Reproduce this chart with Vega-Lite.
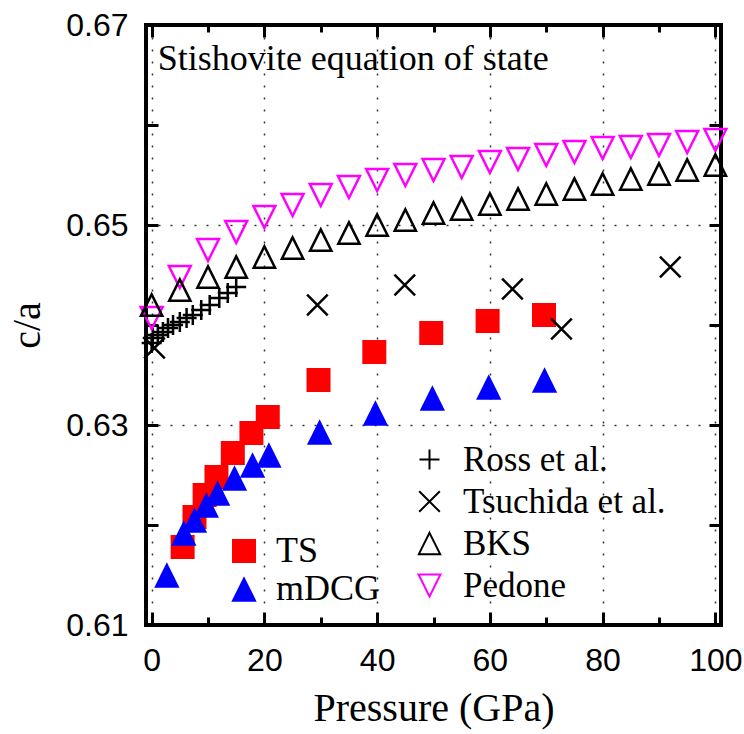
{
  "$schema": "https://vega.github.io/schema/vega-lite/v6.json",
  "width": 575,
  "height": 600,
  "autosize": {"type": "none"},
  "padding": {"left": 146, "top": 25, "right": 23, "bottom": 109},
  "background": "white",
  "config": {
    "view": {"stroke": "black", "strokeWidth": 4},
    "axis": {
      "labelFont": "Liberation Sans",
      "labelFontSize": 32,
      "labelColor": "black",
      "labelFlush": false,
      "labelOverlap": false,
      "tickColor": "black",
      "tickWidth": 3,
      "domain": false,
      "titleFont": "Liberation Serif, Liberation Sans",
      "titleFontWeight": "normal",
      "titleColor": "black",
      "gridColor": "black",
      "gridDash": [2, 10],
      "gridWidth": 1.5,
      "gridOpacity": 0.8
    },
    "legend": {
      "labelFont": "Liberation Serif, Liberation Sans",
      "labelColor": "black",
      "labelLimit": 400,
      "padding": 0,
      "symbolStrokeWidth": 2,
      "symbolOpacity": 1
    }
  },
  "datasets": {
    "main": [
      {"s": "TS", "P": 5.5, "v": 0.6178},
      {"s": "TS", "P": 7.6, "v": 0.6208},
      {"s": "TS", "P": 9.4, "v": 0.623},
      {"s": "TS", "P": 11.5, "v": 0.6248},
      {"s": "TS", "P": 14.4, "v": 0.6272},
      {"s": "TS", "P": 17.7, "v": 0.6292},
      {"s": "TS", "P": 20.6, "v": 0.6308},
      {"s": "TS", "P": 29.6, "v": 0.6345},
      {"s": "TS", "P": 39.5, "v": 0.6373},
      {"s": "TS", "P": 49.6, "v": 0.6392},
      {"s": "TS", "P": 59.6, "v": 0.6404},
      {"s": "TS", "P": 69.6, "v": 0.641},
      {"s": "mDCG", "P": 2.7, "v": 0.615},
      {"s": "mDCG", "P": 5.7, "v": 0.6192},
      {"s": "mDCG", "P": 7.6, "v": 0.6205},
      {"s": "mDCG", "P": 9.7, "v": 0.622},
      {"s": "mDCG", "P": 11.7, "v": 0.6232},
      {"s": "mDCG", "P": 14.7, "v": 0.6247},
      {"s": "mDCG", "P": 17.9, "v": 0.626},
      {"s": "mDCG", "P": 20.8, "v": 0.627},
      {"s": "mDCG", "P": 29.8, "v": 0.6293},
      {"s": "mDCG", "P": 39.7, "v": 0.6312},
      {"s": "mDCG", "P": 49.8, "v": 0.6327},
      {"s": "mDCG", "P": 59.8, "v": 0.6338},
      {"s": "mDCG", "P": 69.7, "v": 0.6345},
      {"s": "Pedone", "P": 0, "v": 0.6407},
      {"s": "Pedone", "P": 5, "v": 0.6448},
      {"s": "Pedone", "P": 10, "v": 0.6475},
      {"s": "Pedone", "P": 15, "v": 0.6493},
      {"s": "Pedone", "P": 20, "v": 0.6508},
      {"s": "Pedone", "P": 25, "v": 0.652},
      {"s": "Pedone", "P": 30, "v": 0.653},
      {"s": "Pedone", "P": 35, "v": 0.6538},
      {"s": "Pedone", "P": 40, "v": 0.6545},
      {"s": "Pedone", "P": 45, "v": 0.655},
      {"s": "Pedone", "P": 50, "v": 0.6555},
      {"s": "Pedone", "P": 55, "v": 0.6558},
      {"s": "Pedone", "P": 60, "v": 0.6563},
      {"s": "Pedone", "P": 65, "v": 0.6566},
      {"s": "Pedone", "P": 70, "v": 0.657},
      {"s": "Pedone", "P": 75, "v": 0.6573},
      {"s": "Pedone", "P": 80, "v": 0.6577},
      {"s": "Pedone", "P": 85, "v": 0.6578},
      {"s": "Pedone", "P": 90, "v": 0.658},
      {"s": "Pedone", "P": 95, "v": 0.6583},
      {"s": "Pedone", "P": 100, "v": 0.6585},
      {"s": "BKS", "P": 0, "v": 0.642},
      {"s": "BKS", "P": 5, "v": 0.6435},
      {"s": "BKS", "P": 10, "v": 0.6448},
      {"s": "BKS", "P": 15, "v": 0.6458},
      {"s": "BKS", "P": 20, "v": 0.6468},
      {"s": "BKS", "P": 25, "v": 0.6477},
      {"s": "BKS", "P": 30, "v": 0.6485},
      {"s": "BKS", "P": 35, "v": 0.6492},
      {"s": "BKS", "P": 40, "v": 0.65},
      {"s": "BKS", "P": 45, "v": 0.6505},
      {"s": "BKS", "P": 50, "v": 0.6512},
      {"s": "BKS", "P": 55, "v": 0.6516},
      {"s": "BKS", "P": 60, "v": 0.6521},
      {"s": "BKS", "P": 65, "v": 0.6526},
      {"s": "BKS", "P": 70, "v": 0.6531},
      {"s": "BKS", "P": 75, "v": 0.6536},
      {"s": "BKS", "P": 80, "v": 0.6541},
      {"s": "BKS", "P": 85, "v": 0.6546},
      {"s": "BKS", "P": 90, "v": 0.6551},
      {"s": "BKS", "P": 95, "v": 0.6555},
      {"s": "BKS", "P": 100, "v": 0.656},
      {"s": "Ross et al.", "P": 0, "v": 0.6382},
      {"s": "Ross et al.", "P": 0.2, "v": 0.6387},
      {"s": "Ross et al.", "P": 1.1, "v": 0.639},
      {"s": "Ross et al.", "P": 2, "v": 0.6393},
      {"s": "Ross et al.", "P": 2.9, "v": 0.6397},
      {"s": "Ross et al.", "P": 3.8, "v": 0.64},
      {"s": "Ross et al.", "P": 5, "v": 0.6403},
      {"s": "Ross et al.", "P": 6.2, "v": 0.6407},
      {"s": "Ross et al.", "P": 7.3, "v": 0.641},
      {"s": "Ross et al.", "P": 8.8, "v": 0.6415},
      {"s": "Ross et al.", "P": 10.3, "v": 0.642},
      {"s": "Ross et al.", "P": 12, "v": 0.6427},
      {"s": "Ross et al.", "P": 13.5, "v": 0.6432},
      {"s": "Ross et al.", "P": 15, "v": 0.6438},
      {"s": "Tsuchida et al.", "P": 0.5, "v": 0.6377},
      {"s": "Tsuchida et al.", "P": 29.4, "v": 0.642},
      {"s": "Tsuchida et al.", "P": 44.9, "v": 0.644},
      {"s": "Tsuchida et al.", "P": 64, "v": 0.6436},
      {"s": "Tsuchida et al.", "P": 72.7, "v": 0.6396},
      {"s": "Tsuchida et al.", "P": 92, "v": 0.6458}
    ]
  },
  "layer": [
    {
      "data": {"name": "main"},
      "transform": [{"filter": "datum.s === 'TS' || datum.s === 'mDCG'"}],
      "mark": {"type": "point", "filled": true, "opacity": 1},
      "encoding": {
        "x": {
          "field": "P", "type": "quantitative",
          "scale": {"domain": [-1, 101], "nice": false, "zero": false},
          "axis": {"orient": "bottom", "values": [0, 20, 40, 60, 80, 100], "tickSize": -13, "labelPadding": 33, "grid": true, "title": "Pressure (GPa)", "titleFontSize": 40, "titlePadding": 12}
        },
        "y": {
          "field": "v", "type": "quantitative",
          "scale": {"domain": [0.61, 0.67], "nice": false, "zero": false},
          "axis": {"orient": "left", "values": [0.61, 0.63, 0.65, 0.67], "format": ".2f", "tickSize": -12, "labelPadding": 30, "grid": true, "title": "c/a", "titleFontSize": 40, "titlePadding": 18}
        },
        "color": {
          "field": "s", "type": "nominal",
          "scale": {"domain": ["TS", "mDCG"], "range": ["#ff0000", "#0000ff"]},
          "legend": {"orient": "none", "legendX": 80, "legendY": 508, "title": null, "symbolSize": 380, "labelFontSize": 36, "labelOffset": 14, "rowPadding": 2}
        },
        "shape": {
          "field": "s", "type": "nominal",
          "scale": {"domain": ["TS", "mDCG"], "range": ["square", "M0,-1L1,1L-1,1Z"]}
        },
        "size": {
          "field": "s", "type": "nominal",
          "scale": {"domain": ["TS", "mDCG"], "range": [576, 640]},
          "legend": null
        }
      }
    },
    {
      "data": {"name": "main"},
      "transform": [{"filter": "datum.s !== 'TS' && datum.s !== 'mDCG'"}],
      "mark": {"type": "point", "filled": false, "strokeWidth": 2.5, "opacity": 1},
      "encoding": {
        "x": {
          "field": "P", "type": "quantitative",
          "scale": {"domain": [-1, 101], "nice": false, "zero": false},
          "axis": {"orient": "bottom", "values": [10, 30, 50, 70, 90], "tickSize": -8, "labels": false, "grid": false, "title": null}
        },
        "y": {
          "field": "v", "type": "quantitative",
          "scale": {"domain": [0.61, 0.67], "nice": false, "zero": false},
          "axis": {"orient": "left", "values": [0.62, 0.64, 0.66], "tickSize": -12, "labels": false, "grid": false, "title": null}
        },
        "color": {
          "field": "s", "type": "nominal",
          "scale": {"domain": ["Ross et al.", "Tsuchida et al.", "BKS", "Pedone"], "range": ["black", "black", "black", "#ff00ff"]},
          "legend": {"orient": "none", "legendX": 266, "legendY": 417, "title": null, "symbolSize": 225, "labelFontSize": 35, "labelOffset": 16, "rowPadding": 6}
        },
        "shape": {
          "field": "s", "type": "nominal",
          "scale": {"domain": ["Ross et al.", "Tsuchida et al.", "BKS", "Pedone"], "range": ["M-1,0H1M0,-1V1", "M-1,-1L1,1M1,-1L-1,1", "M0,-1L1,1L-1,1Z", "M0,1L1,-1L-1,-1Z"]}
        },
        "size": {
          "field": "s", "type": "nominal",
          "scale": {"domain": ["Ross et al.", "Tsuchida et al.", "BKS", "Pedone"], "range": [400, 480, 420, 420]},
          "legend": null
        },
        "order": {"field": "s", "sort": "descending"}
      }
    },
    {
      "data": {"name": "main"},
      "mark": {"type": "point", "opacity": 0},
      "encoding": {
        "x": {
          "field": "P", "type": "quantitative",
          "scale": {"domain": [-1, 101], "nice": false, "zero": false},
          "axis": {"orient": "top", "values": [0, 20, 40, 60, 80, 100], "tickSize": -12, "labels": false, "grid": false, "title": null}
        },
        "y": {
          "field": "v", "type": "quantitative",
          "scale": {"domain": [0.61, 0.67], "nice": false, "zero": false},
          "axis": {"orient": "right", "values": [0.61, 0.62, 0.63, 0.64, 0.65, 0.66, 0.67], "tickSize": -12, "labels": false, "grid": false, "title": null}
        }
      }
    },
    {
      "data": {"name": "main"},
      "mark": {"type": "point", "opacity": 0},
      "encoding": {
        "x": {
          "field": "P", "type": "quantitative",
          "scale": {"domain": [-1, 101], "nice": false, "zero": false},
          "axis": {"orient": "top", "values": [10, 30, 50, 70, 90], "tickSize": -7, "labels": false, "grid": false, "title": null}
        },
        "y": {
          "field": "v", "type": "quantitative",
          "scale": {"domain": [0.61, 0.67], "nice": false, "zero": false},
          "axis": null
        }
      }
    },
    {
      "data": {"values": [{"t": "Stishovite equation of state"}]},
      "mark": {"type": "text", "align": "left", "baseline": "alphabetic", "font": "Liberation Serif, Liberation Sans", "fontSize": 36, "color": "black"},
      "encoding": {
        "x": {"datum": 1.1, "type": "quantitative", "axis": null},
        "y": {"datum": 0.6655, "type": "quantitative", "axis": null},
        "text": {"field": "t"}
      }
    }
  ],
  "resolve": {
    "scale": {"color": "independent", "shape": "independent", "size": "independent"},
    "axis": {"x": "independent", "y": "independent"}
  }
}
